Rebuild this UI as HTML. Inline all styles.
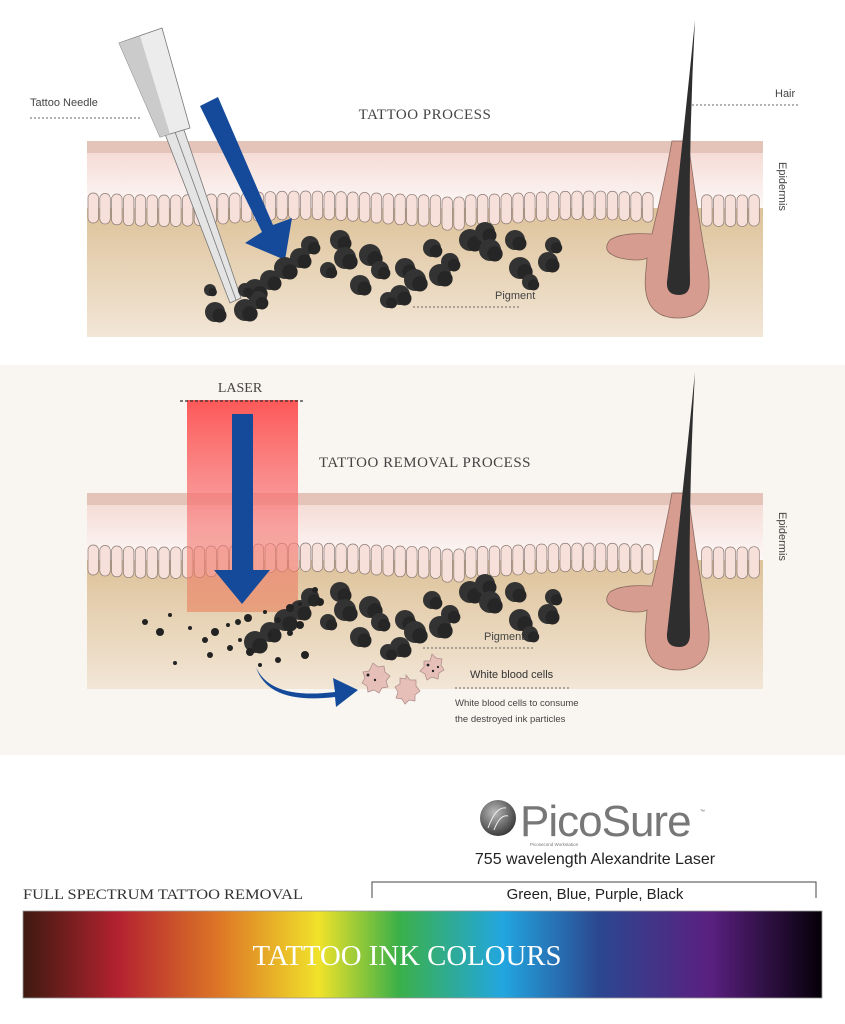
<!DOCTYPE html>
<html><head><meta charset="utf-8"><style>
html,body{margin:0;padding:0;background:#fff;}
svg{display:block}
text{font-family:"Liberation Sans",sans-serif}
.serif{font-family:"Liberation Serif",serif}
</style></head><body>
<svg id="s" width="845" height="1024" viewBox="0 0 845 1024" xmlns="http://www.w3.org/2000/svg">
<defs>
<linearGradient id="pinkg" x1="0" y1="0" x2="0" y2="1"><stop offset="0" stop-color="#f5dcd6"/><stop offset="1" stop-color="#fdf8f7"/></linearGradient>
<linearGradient id="derm" x1="0" y1="0" x2="0" y2="1"><stop offset="0" stop-color="#d3b07b"/><stop offset="1" stop-color="#f2e6d6"/></linearGradient>
<linearGradient id="laser" x1="0" y1="0" x2="0" y2="1"><stop offset="0" stop-color="#fd5050" stop-opacity="0.95"/><stop offset="0.6" stop-color="#f77a7a" stop-opacity="0.65"/><stop offset="1" stop-color="#e8805a" stop-opacity="0.6"/></linearGradient>
<linearGradient id="spec" x1="0" y1="0" x2="1" y2="0">
<stop offset="0" stop-color="#3e1a10"/><stop offset="0.12" stop-color="#b42230"/><stop offset="0.25" stop-color="#de7a26"/><stop offset="0.37" stop-color="#f0e22a"/><stop offset="0.47" stop-color="#3bb048"/><stop offset="0.6" stop-color="#22a6e0"/><stop offset="0.72" stop-color="#2b4790"/><stop offset="0.86" stop-color="#5a2080"/><stop offset="1" stop-color="#050008"/></linearGradient>
<radialGradient id="logo" cx="0.4" cy="0.35" r="0.7"><stop offset="0" stop-color="#bbb"/><stop offset="1" stop-color="#333"/></radialGradient>
</defs>
<rect x="0" y="365" width="845" height="390" fill="#f9f5f0"/>
<g id="skin1"></g>
<g id="skin2" transform="translate(0,352)"></g>

<!-- section 1 labels -->
<text x="30" y="106" font-size="11" fill="#444">Tattoo Needle</text>
<line x1="30" y1="118" x2="140" y2="118" stroke="#666" stroke-dasharray="2,2"/>
<text x="425" y="119" class="serif" font-size="15" fill="#444" text-anchor="middle" letter-spacing="0.5">TATTOO PROCESS</text>
<text x="775" y="97" font-size="11" fill="#444">Hair</text>
<line x1="692" y1="105" x2="800" y2="105" stroke="#666" stroke-dasharray="2,2"/>
<text x="495" y="299" font-size="11" fill="#444">Pigment</text>
<line x1="413" y1="307" x2="520" y2="307" stroke="#666" stroke-dasharray="2,2"/>
<text transform="translate(779,162) rotate(90)" font-size="11" fill="#444">Epidermis</text>

<!-- needle -->
<g>
<polygon points="165,134 184,130 241,298 230,303" fill="#e4e4e4" stroke="#777" stroke-width="0.8"/>
<line x1="175" y1="132" x2="236" y2="300" stroke="#777" stroke-width="0.8"/>
<polygon points="119,43 162,28 190,128 160,137" fill="#ececec" stroke="#777" stroke-width="0.8"/>
<polygon points="119,43 140,36 170,134 160,137" fill="#cbcbcb"/>
</g>
<!-- blue arrow 1 -->
<polygon points="200,106 218,97 273,225 292,218 285,260 245,243 262,232" fill="#154a9a"/>

<!-- section 2 -->
<rect x="187" y="400" width="111" height="212" fill="url(#laser)"/>
<line x1="180" y1="401" x2="303" y2="401" stroke="#333" stroke-width="1.2" stroke-dasharray="3,2"/>
<text x="240" y="392" class="serif" font-size="14" fill="#444" text-anchor="middle">LASER</text>
<polygon points="232,414 253,414 253,570 270,570 242,604 214,570 232,570" fill="#154a9a"/>
<text x="425" y="467" class="serif" font-size="15" fill="#444" text-anchor="middle" letter-spacing="0.5">TATTOO REMOVAL PROCESS</text>
<text x="484" y="640" font-size="11" fill="#444">Pigment</text>
<line x1="423" y1="648" x2="535" y2="648" stroke="#666" stroke-dasharray="2,2"/>
<text x="470" y="678" font-size="11" fill="#333">White blood cells</text>
<line x1="455" y1="688" x2="570" y2="688" stroke="#666" stroke-dasharray="2,2"/>
<text x="455" y="706" font-size="9.5" fill="#444">White blood cells to consume</text>
<text x="455" y="722" font-size="9.5" fill="#444">the destroyed ink particles</text>
<path d="M256,667 Q270,700 335,692 L333,678 L358,690 L336,707 L335,697 Q268,705 256,667 Z" fill="#154a9a"/>
<g fill="#e6c0b8" stroke="#a88" stroke-width="0.7">
<path d="M373,663 l5,4 6,-1 1,6 5,4 -4,5 2,6 -6,1 -3,5 -5,-3 -6,2 -1,-6 -5,-3 3,-5 -2,-6 6,-1z"/>
<path d="M406,675 l4,5 6,0 0,6 4,5 -5,4 0,6 -6,-1 -4,4 -3,-5 -6,-1 2,-6 -3,-5 5,-3 0,-6 6,1z"/>
<path d="M432,654 l4,4 6,1 -1,6 3,5 -5,3 -1,6 -6,-2 -5,3 -2,-6 -5,-3 4,-4 0,-6 6,0z"/>
</g>
<g fill="#222"><circle cx="368" cy="675" r="1.5"/><circle cx="375" cy="680" r="1.2"/><circle cx="428" cy="665" r="1.4"/><circle cx="433" cy="671" r="1.2"/><circle cx="438" cy="667" r="1.1"/></g>
<text transform="translate(779,512) rotate(90)" font-size="11" fill="#444">Epidermis</text>

<!-- bottom -->
<circle cx="498" cy="818" r="18" fill="url(#logo)"/>
<path d="M488,828 q8,-22 18,-20 M494,830 q6,-16 14,-14" stroke="#eee" stroke-width="1" fill="none"/>
<text x="520" y="836" font-size="44" fill="#777" letter-spacing="-1">PicoSure</text>
<text x="700" y="813" font-size="5" fill="#666">™</text>
<text x="530" y="846" font-size="4.5" fill="#777">Picosecond Workstation</text>
<text x="595" y="864" font-size="16" fill="#222" text-anchor="middle">755 wavelength Alexandrite Laser</text>
<path d="M372,898 V882 H816 V898" fill="none" stroke="#444" stroke-width="1"/>
<text x="595" y="899" font-size="15" fill="#222" text-anchor="middle">Green, Blue, Purple, Black</text>
<text x="23" y="899" class="serif" font-size="15" fill="#333" textLength="280" lengthAdjust="spacingAndGlyphs">FULL SPECTRUM TATTOO REMOVAL</text>
<rect x="23" y="911" width="799" height="87" fill="url(#spec)" stroke="#999" stroke-width="0.8"/>
<text x="407" y="965" class="serif" font-size="28" fill="#fff" text-anchor="middle" textLength="309" lengthAdjust="spacingAndGlyphs">TATTOO INK COLOURS</text>
</svg>
<script>
var NS="http://www.w3.org/2000/svg";
function el(p,t,a){var e=document.createElementNS(NS,t);for(var k in a)e.setAttribute(k,a[k]);p.appendChild(e);return e;}
function skin(g){
 el(g,"rect",{x:87,y:141,width:676,height:196,fill:"url(#derm)"});
 el(g,"rect",{x:87,y:153,width:676,height:55,fill:"url(#pinkg)"});
 el(g,"rect",{x:87,y:141,width:676,height:12,fill:"#e4c4b9"});
 for(var x=88;x<760;x+=11.8){
  if(x>650&&x<700)continue;
  var off=4*Math.sin((x-88)/45)+ (x>440&&x<460?4:0);
  el(g,"rect",{x:x,y:193+off*0.5,width:10.5,height:30+off*0.4,rx:5,fill:"#f7e0da",stroke:"#8a7a74","stroke-width":0.7});
 }
 el(g,"path",{d:"M672,141 L688,141 Q700,230 708,270 Q715,318 678,318 Q640,318 646,270 L647,258 Q640,262 620,258 Q600,252 610,240 Q622,232 652,234 Q665,180 672,141 Z",fill:"#d69c8f",stroke:"#8b6a60","stroke-width":0.8});
}
skin(document.getElementById("skin1"));skin(document.getElementById("skin2"));
var s=document.getElementById("s");
[0,352].forEach(function(d){
 el(s,"path",{d:"M695,"+(20+d)+" Q688,"+(150+d)+" 690,"+(282+d)+" Q690,"+(295+d)+" 679,"+(295+d)+" Q666,"+(295+d)+" 667,"+(282+d)+" Q682,"+(150+d)+" 695,"+(20+d)+" Z",fill:"#2e2e2e"});
});
var big=[[300,258,10],[310,245,9],[285,268,11],[270,280,10],[255,290,11],[340,240,10],[345,258,11],[370,255,11],[380,270,9],[360,285,10],[405,268,10],[415,280,11],[400,295,10],[432,248,9],[440,275,11],[450,262,9],[470,240,11],[485,232,10],[490,250,11],[515,240,10],[520,268,11],[548,262,10],[553,245,8],[530,282,8],[328,270,8],[388,300,8]];
var sec1=[[210,290,6],[215,312,10],[245,310,11],[258,300,9],[245,290,7]];
function blobs(list,d){list.forEach(function(b){el(s,"circle",{cx:b[0],cy:b[1]+d,r:b[2],fill:"#333"});el(s,"circle",{cx:b[0]+b[2]*0.45,cy:b[1]+d+b[2]*0.35,r:b[2]*0.7,fill:"#262626"});});}
blobs(big,0);blobs(sec1,0);blobs(big,352);
var small=[[170,615],[145,622],[160,632],[190,628],[205,640],[215,632],[228,625],[238,622],[248,618],[265,612],[278,620],[290,608],[300,604],[315,590],[320,602],[270,635],[290,633],[300,625],[175,663],[210,655],[250,652],[260,665],[278,660],[305,655],[240,640],[230,648]];
small.forEach(function(p,i){el(s,"circle",{cx:p[0],cy:p[1],r:2+(i%3),fill:"#222"});});
</script>
</body></html>
